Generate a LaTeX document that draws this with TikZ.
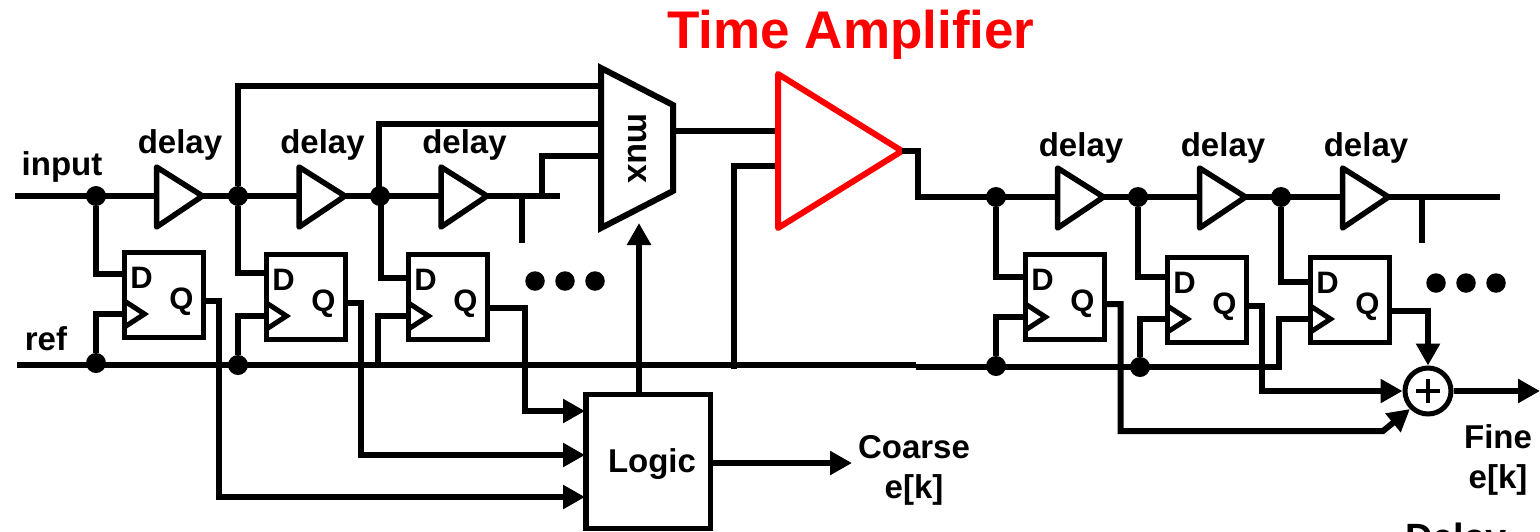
\documentclass[tikz,border=0pt]{standalone}
\usepackage{fontspec}
\setmainfont{Liberation Sans}
\usetikzlibrary{arrows.meta,calc}
\tikzset{
  wire/.style={line width=6pt,black},
  arr/.style={wire,-{Triangle[length=22pt,width=23pt]}},
  dot/.style={circle,fill=black,inner sep=0pt,minimum size=20pt},
  lab/.style={font=\fontsize{33}{36}\selectfont\bfseries,inner sep=0pt,align=center},
  lts/.style={font=\fontsize{31}{34}\selectfont\bfseries,inner sep=0pt},
  ffbox/.style={draw,line width=5pt,anchor=north west,inner sep=0pt,outer sep=0pt,minimum width=79pt,minimum height=85pt},
  buf/.style={draw,line width=5.5pt,line join=round,fill=white},
  ampl/.style={draw=red,line width=6pt,line join=round},
  dotsm/.style={circle,fill=black,inner sep=0pt,minimum size=19.5pt},
  blockbox/.style={draw,line width=5.5pt,anchor=north west,inner sep=0pt,outer sep=0pt}
}
% name, x, y of ff upper-left (centre of stroke), D wire y, clk y, Q wire y
\newcommand{\ffcell}[6]{
  \node[ffbox] (#1) at (#2,#3) {};
  \coordinate (#1d) at (#2,#4);
  \coordinate (#1c) at (#2,#5);
  \coordinate (#1q) at (#2+79,#6);
  \draw[line width=5pt,line join=miter] (#2,#5-13) -- (#2+20,#5) -- (#2,#5+13);
  \node[lts] (#1D) at (#2+17,#3+26) {D};
  \node[lts] (#1Q) at (#2+57,#3+50) {Q};
}
% name, x, y, label baseline y
\newcommand{\bufcell}[4]{
  \coordinate (#1i) at (#2,#3);
  \coordinate (#1o) at (#2+46,#3);
  \draw[buf] (#2,#3-29) -- (#2+46,#3) -- (#2,#3+31) -- cycle;
  \node[lab,anchor=base] (#1l) at (#2+23.5,#4) {delay};
}
\begin{document}
\begin{tikzpicture}[x=1pt,y=-1pt]
\useasboundingbox (0,0) rectangle (1540,531);
\clip (0,0) rectangle (1540,531);
\fill[white] (0,0) rectangle (1540,531);

% labels
\node[font=\fontsize{53}{56}\selectfont\bfseries,text=red,inner sep=0pt,anchor=base] (title) at (851,48) {Time Amplifier};
\node[lab,anchor=base] (inlab) at (62,175) {input};
\node[lab,anchor=base] (reflab) at (46,350) {ref};

% input side junctions
\node[dot] (j1) at (96,196) {};
\node[dot] (j2) at (238,196) {};
\node[dot] (j3) at (380,196) {};
\node[dot] (r1) at (96,363) {};
\node[dot] (r2) at (238,365) {};

\coordinate (instart) at (15,196);
\coordinate (refstart) at (17,365);
\coordinate (refmid) at (916,365);
\coordinate (refmidb) at (916,366.5);
\coordinate (refend) at (1282,366.5);
\coordinate (inend) at (560,196);
\coordinate (stub1) at (522,196);
\coordinate (stub1e) at (522,243);
\coordinate (tap) at (541.5,196);

% flip-flops
\ffcell{f1}{124.5}{252}{274}{314}{301}
\ffcell{f2}{266.5}{254}{273}{316}{303}
\ffcell{f3}{408.5}{254}{278}{316}{308}
\ffcell{f4}{1025.5}{254}{277}{317}{304}
\ffcell{f5}{1167.5}{257}{277}{319}{306}
\ffcell{f6}{1310.5}{257}{282}{319}{311}

% main lines
\draw[wire] (instart) -- (inend);
\draw[wire] (stub1) -- (stub1e);
\draw[wire] (refstart) -- (refmid);
\draw[wire] (refmidb) -- (refend);
\bufcell{b1}{156.5}{196}{153}
\bufcell{b2}{299}{196}{153}
\bufcell{b3}{441}{196}{153}

% mux
\coordinate (mtl) at (601,68);
\coordinate (mbl) at (601,228);
\coordinate (mtr) at (673,105);
\coordinate (mbr) at (673,191);
\draw[wire,line join=miter] (mtl) -- (mtr) -- (mbr) -- (mbl) -- cycle;
\node[font=\fontsize{34}{36}\selectfont\bfseries,inner sep=0pt,rotate=-90] (muxl) at (637,148.5) {mux};
\coordinate (mi1) at (601,86);
\coordinate (mi2) at (601,124);
\coordinate (mi3) at (601,156);
\coordinate (mo) at (673,131);
\coordinate (mc) at (639,223);
\draw[wire] (j2) -- (238,86) -- (mi1);
\draw[wire] (378.5,196) -- (378.5,124) -- (mi2);
\draw[wire] (tap) -- (541.5,156) -- (mi3);

% time amplifier
\coordinate (ta1) at (777,131);
\coordinate (ta2) at (777,166);
\coordinate (tao) at (902,151);
\draw[wire] (mo) -- (ta1);
\draw[wire] (ta2) -- (734,166) -- (734,369);
\draw[ampl] (778,74) -- (tao) -- (778,228) -- cycle;

% logic
\node[blockbox,minimum width=124.5pt,minimum height=134pt] (logic) at (586,394.5) {};
\node[lab,anchor=base] (logicl) at (652,472) {Logic};
\coordinate (lg1) at (585,411);
\coordinate (lg2) at (585,455);
\coordinate (lg3) at (585,497);
\coordinate (lgc) at (639,394);
\coordinate (lgo) at (710,463);
\coordinate (lgoe) at (852,463);
\draw[arr] (lgc) -- (mc);
\draw[arr] (lgo) -- (lgoe);
\node[lab,anchor=base] (coarse) at (914,458) {Coarse};
\node[lab,anchor=base] (ekc) at (914,498) {e[k]};

% flip-flop connections, input side
\draw[wire] (j1) |- (f1d);
\draw[wire] (j2) |- (f2d);
\draw[wire] (380.5,196) |- (f3d);
\draw[wire] (r1) |- (f1c);
\draw[wire] (r2) |- (f2c);
\draw[wire] (378,365) |- (f3c);
\draw[arr] (f1q) -| (219,497) -- (lg3);
\draw[arr] (f2q) -| (361,455) -- (lg2);
\draw[arr] (f3q) -| (525,411) -- (lg1);

\node[dotsm] (e1) at (535,281) {};
\node[dotsm] (e2) at (565,281) {};
\node[dotsm] (e3) at (595,281) {};

% right side
\coordinate (rout) at (1500,197);
\coordinate (stub2) at (1422,197);
\coordinate (stub2e) at (1422,243);
\node[dot] (k1) at (996,197) {};
\node[dot] (k2) at (1138,197) {};
\node[dot] (k3) at (1281,197) {};
\node[dot] (s1) at (996,366) {};
\node[dot] (s2) at (1140,367) {};
\draw[wire] (tao) -- (918,151) -- (918,197) -- (rout);
\draw[wire] (stub2) -- (stub2e);
\bufcell{b4}{1057.5}{197}{156}
\bufcell{b5}{1199.5}{197}{156}
\bufcell{b6}{1342.5}{197}{156}
\draw[wire] (k1) |- (f4d);
\draw[wire] (k2) |- (f5d);
\draw[wire] (k3) |- (f6d);
\draw[wire] (s1) |- (f4c);
\draw[wire] (s2) |- (f5c);
\draw[wire] (1279,368) |- (f6c);

\node[draw,circle,line width=5pt,inner sep=0pt,minimum size=46pt,fill=white] (sum) at (1428,391) {};
\draw[line width=4.5pt] ($(sum)+(-12,0)$) -- ($(sum)+(12,0)$);
\draw[line width=4.5pt] ($(sum)+(0,-12)$) -- ($(sum)+(0,12)$);
\coordinate (sumo) at (1540,391);
\draw[arr] (f6q) -| (sum.north);
\draw[arr] (f5q) -| (1261.5,391) -- (sum.west);
\draw[arr] (f4q) -| (1120.5,431) -- (1383,431) -- (sum.south west);
\draw[arr] (sum.east) -- (sumo);

\node[dotsm] (e4) at (1436,283) {};
\node[dotsm] (e5) at (1466,283) {};
\node[dotsm] (e6) at (1496,283) {};
\node[lab,anchor=base] (fine) at (1498,448) {Fine};
\node[lab,anchor=base] (ekf) at (1498,488) {e[k]};
\node[font=\fontsize{38}{40}\selectfont\bfseries,inner sep=0pt,anchor=base] (dl) at (1456,550) {Delay};
\end{tikzpicture}
\end{document}
